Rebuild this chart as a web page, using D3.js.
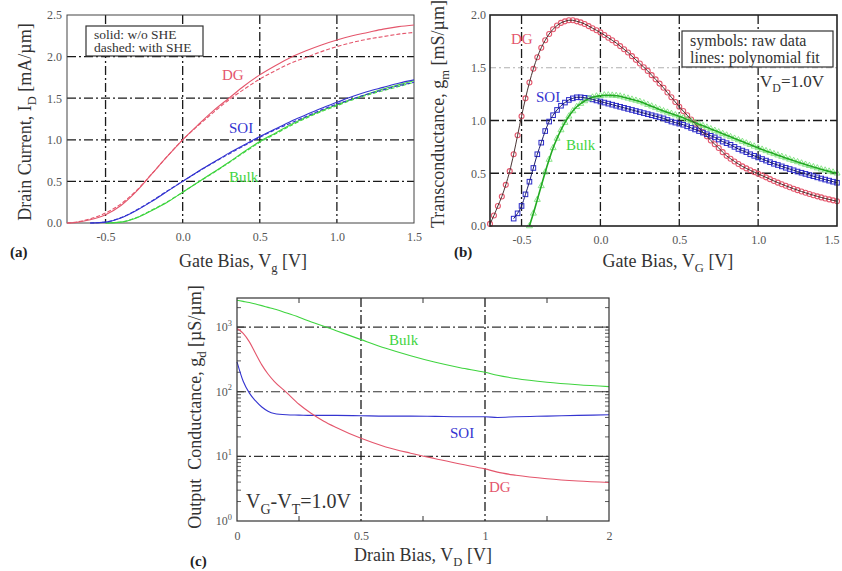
<!DOCTYPE html>
<html>
<head>
<meta charset="utf-8">
<script src="https://cdn.jsdelivr.net/npm/d3@7"></script>
<style>
  body { margin: 0; background: #fff; }
  svg text { font-family: "Liberation Serif", "Times New Roman", serif; }
</style>
</head>
<body>
<svg id="fig" width="842" height="571"></svg>
<script>
// (a) drain current [mA/um] vs gate bias [V]
const gateA = [-0.75, -0.7, -0.6, -0.5, -0.4, -0.3, -0.2, -0.1, 0.0, 0.1, 0.2, 0.3, 0.4, 0.5, 0.6, 0.7, 0.8, 0.9, 1.0, 1.1, 1.2, 1.3, 1.4, 1.5];
const dgSolidA   = [0.0, 0.005, 0.04, 0.10, 0.21, 0.38, 0.59, 0.80, 1.00, 1.18, 1.35, 1.50, 1.65, 1.78, 1.89, 1.99, 2.07, 2.14, 2.20, 2.25, 2.29, 2.33, 2.36, 2.38];
const dgDashA    = [0.0, 0.008, 0.05, 0.12, 0.23, 0.39, 0.59, 0.80, 1.00, 1.17, 1.33, 1.48, 1.61, 1.73, 1.83, 1.92, 1.99, 2.06, 2.12, 2.17, 2.21, 2.24, 2.27, 2.29];
const soiSolidA  = [null, null, 0.0, 0.01, 0.06, 0.15, 0.26, 0.38, 0.50, 0.62, 0.73, 0.84, 0.94, 1.04, 1.13, 1.22, 1.30, 1.38, 1.45, 1.52, 1.58, 1.63, 1.68, 1.72];
const soiDashA   = [null, null, 0.0, 0.012, 0.065, 0.155, 0.265, 0.385, 0.50, 0.615, 0.725, 0.83, 0.93, 1.03, 1.12, 1.20, 1.28, 1.36, 1.43, 1.49, 1.55, 1.60, 1.65, 1.69];
const bulkSolidA = [null, null, null, 0.0, 0.01, 0.06, 0.15, 0.25, 0.37, 0.49, 0.61, 0.73, 0.86, 0.98, 1.08, 1.18, 1.27, 1.35, 1.42, 1.49, 1.55, 1.61, 1.66, 1.71];
const bulkDashA  = [null, null, null, 0.0, 0.012, 0.065, 0.155, 0.255, 0.37, 0.49, 0.605, 0.725, 0.85, 0.97, 1.07, 1.17, 1.26, 1.34, 1.41, 1.48, 1.54, 1.59, 1.64, 1.69];
const ticksXA = [-0.5, 0.0, 0.5, 1.0, 1.5];
const ticksYA = [0.0, 0.5, 1.0, 1.5, 2.0, 2.5];

// (b) transconductance [mS/um] vs gate bias [V], raw data + fit
const gateB = [-0.7, -0.675, -0.65, -0.625, -0.6, -0.575, -0.55, -0.525, -0.5, -0.475, -0.45, -0.425, -0.4, -0.375, -0.35, -0.325, -0.3, -0.275, -0.25, -0.225, -0.2, -0.175, -0.15, -0.125, -0.1, -0.075, -0.05, -0.025, 0.0,
  0.025, 0.05, 0.075, 0.1, 0.125, 0.15, 0.175, 0.2, 0.225, 0.25, 0.275, 0.3, 0.325, 0.35, 0.375, 0.4, 0.425, 0.45, 0.475, 0.5,
  0.525, 0.55, 0.575, 0.6, 0.625, 0.65, 0.675, 0.7, 0.725, 0.75, 0.775, 0.8, 0.825, 0.85, 0.875, 0.9, 0.925, 0.95, 0.975, 1.0,
  1.025, 1.05, 1.075, 1.1, 1.125, 1.15, 1.175, 1.2, 1.225, 1.25, 1.275, 1.3, 1.325, 1.35, 1.375, 1.4, 1.425, 1.45, 1.475, 1.5];
const dgB = [0.02, 0.10, 0.19, 0.28, 0.39, 0.52, 0.68, 0.86, 1.04, 1.21, 1.36, 1.49, 1.60, 1.69, 1.76, 1.82, 1.865, 1.90, 1.925, 1.94, 1.95, 1.95, 1.94, 1.93, 1.915, 1.895, 1.875, 1.855, 1.835,
  1.81, 1.785, 1.76, 1.735, 1.705, 1.675, 1.645, 1.61, 1.575, 1.54, 1.505, 1.47, 1.43, 1.39, 1.35, 1.31, 1.265, 1.22, 1.175, 1.13,
  1.09, 1.05, 1.01, 0.97, 0.93, 0.89, 0.85, 0.81, 0.775, 0.74, 0.70, 0.665, 0.638, 0.612, 0.588, 0.565, 0.546, 0.528, 0.511, 0.495,
  0.478, 0.461, 0.444, 0.427, 0.411, 0.396, 0.381, 0.367, 0.353, 0.340, 0.327, 0.315, 0.303, 0.292, 0.281, 0.271, 0.261, 0.252, 0.243, 0.235];
const soiB = [null, null, null, null, null, null, 0.07, 0.12, 0.19, 0.30, 0.42, 0.55, 0.68, 0.79, 0.90, 0.99, 1.05, 1.10, 1.14, 1.17, 1.195, 1.21, 1.22, 1.22, 1.215, 1.21, 1.20, 1.19, 1.18,
  1.17, 1.16, 1.15, 1.14, 1.13, 1.12, 1.11, 1.10, 1.09, 1.08, 1.07, 1.06, 1.05, 1.04, 1.03, 1.02, 1.005, 0.99, 0.98, 0.97,
  0.96, 0.945, 0.93, 0.915, 0.90, 0.885, 0.87, 0.855, 0.84, 0.82, 0.80, 0.785, 0.77, 0.75, 0.73, 0.715, 0.70, 0.68, 0.665, 0.65,
  0.635, 0.62, 0.605, 0.59, 0.578, 0.565, 0.552, 0.54, 0.528, 0.516, 0.505, 0.494, 0.483, 0.472, 0.461, 0.45, 0.44, 0.43, 0.42, 0.41];
const bulkB = [null, null, null, null, null, null, null, null, null, null, 0.0, 0.12, 0.25, 0.38, 0.51, 0.63, 0.74, 0.83, 0.91, 0.98, 1.04, 1.09, 1.13, 1.16, 1.185, 1.205, 1.22, 1.23, 1.235,
  1.24, 1.24, 1.238, 1.235, 1.23, 1.22, 1.21, 1.20, 1.19, 1.18, 1.165, 1.15, 1.135, 1.12, 1.105, 1.09, 1.077, 1.065, 1.052, 1.04,
  1.025, 1.01, 0.995, 0.98, 0.965, 0.95, 0.935, 0.92, 0.905, 0.89, 0.875, 0.86, 0.845, 0.83, 0.815, 0.80, 0.785, 0.77, 0.755, 0.74,
  0.726, 0.712, 0.698, 0.684, 0.671, 0.658, 0.645, 0.632, 0.619, 0.607, 0.595, 0.583, 0.571, 0.56, 0.549, 0.538, 0.528, 0.518, 0.509, 0.50];
const ticksXB = [-0.5, 0.0, 0.5, 1.0, 1.5];
const ticksYB = [0.0, 0.5, 1.0, 1.5, 2.0];

// (c) output conductance [uS/um] vs drain bias [V]
const drainC = [0, 0.025, 0.05, 0.075, 0.1, 0.125, 0.15, 0.2, 0.25, 0.3, 0.35, 0.4, 0.5, 0.6, 0.7, 0.8, 0.9, 1.0, 1.1, 1.25, 1.5, 1.75, 2.0];
const bulkC = [2600, 2500, 2400, 2280, 2150, 2020, 1900, 1650, 1420, 1200, 1030, 880, 640, 470, 360, 285, 235, 200, 180, 160, 140, 128, 120];
const dgC   = [950, 800, 590, 390, 260, 188, 145, 97, 64, 46, 35, 28, 19, 14, 11.2, 9.2, 7.6, 6.4, 5.7, 5.1, 4.5, 4.15, 3.95];
const soiC  = [290, 145, 95, 72, 58, 50, 46, 44, 43.5, 43, 43, 43, 42.5, 42, 42, 41.5, 41, 41, 40, 41, 42, 43, 44];
const ticksXC = [0, 0.5, 1, 2];
const minorXC = [0.25, 0.75, 1.5];
const decadesC = [1, 10, 100, 1000];

const Fig = {};

Fig.init = function() {
    Fig.svg = d3.select('#fig');
    Fig.setup.initStyles();
    Fig.setup.initPanels();
    Fig.core.drawA();
    Fig.core.drawB();
    Fig.core.drawC();
};

Fig.setup = {
    initStyles: function() {
        Fig.red = '#e4566c';
        Fig.blue = '#3434d0';
        Fig.green = '#3fd43f';
        Fig.titleSize = 18;
        Fig.darkGrid = { color: '#1a1a1a', width: 1.3, dash: '9,3,2,3' };
        Fig.lightGrid = { color: '#9a9a9a', width: 0.8, dash: '6,3,2,3' };
    },

    initPanels: function() {
        Fig.a = { left: 67, right: 414, top: 15, bottom: 223 };
        Fig.a.x = d3.scaleLinear().domain([-0.75, 1.5]).range([Fig.a.left, Fig.a.right]);
        Fig.a.y = d3.scaleLinear().domain([0, 2.5]).range([Fig.a.bottom, Fig.a.top]);

        Fig.b = { left: 490, right: 837, top: 15, bottom: 226 };
        Fig.b.x = d3.scaleLinear().domain([-0.7, 1.5]).range([Fig.b.left, Fig.b.right]);
        Fig.b.y = d3.scaleLinear().domain([0, 2]).range([Fig.b.bottom, Fig.b.top]);

        // x axis of (c) is drawn with equal spacing for 0, 0.5, 1, 2
        Fig.c = { left: 237, right: 609, top: 298, bottom: 521 };
        const w = (Fig.c.right - Fig.c.left) / 3;
        Fig.c.x = d3.scaleLinear().domain(ticksXC).range([Fig.c.left, Fig.c.left + w, Fig.c.left + 2 * w, Fig.c.right]);
        Fig.c.y = d3.scaleLog().domain([1, Math.pow(10, 3.45)]).range([Fig.c.bottom, Fig.c.top]);

        [Fig.a, Fig.b, Fig.c].forEach(function(p) {
            p.g = Fig.svg.append('g');
        });
    }
};

Fig.helpers = {
    line: function(p) {
        return d3.line()
            .defined(d => d[1] != null)
            .x(d => p.x(d[0]))
            .y(d => p.y(d[1]))
            .curve(d3.curveMonotoneX);
    },

    gridX: function(p, values, style) {
        p.g.selectAll(null).data(values).enter().append('line')
            .attr('x1', d => p.x(d)).attr('x2', d => p.x(d))
            .attr('y1', p.top).attr('y2', p.bottom)
            .attr('stroke', style.color).attr('stroke-width', style.width)
            .attr('stroke-dasharray', style.dash);
    },

    gridY: function(p, values, style) {
        p.g.selectAll(null).data(values).enter().append('line')
            .attr('x1', p.left).attr('x2', p.right)
            .attr('y1', d => p.y(d)).attr('y2', d => p.y(d))
            .attr('stroke', style.color).attr('stroke-width', style.width)
            .attr('stroke-dasharray', style.dash);
    },

    frame: function(p, color, width) {
        p.g.append('rect')
            .attr('x', p.left).attr('y', p.top)
            .attr('width', p.right - p.left).attr('height', p.bottom - p.top)
            .attr('fill', 'none').attr('stroke', color).attr('stroke-width', width);
    },

    axes: function(p, xTicks, yTicks, fmtX, fmtY, padX, padY) {
        const gx = p.g.append('g').attr('transform', 'translate(0,' + p.bottom + ')')
            .call(d3.axisBottom(p.x).tickValues(xTicks).tickFormat(fmtX).tickSize(0).tickPadding(padX));
        const gy = p.g.append('g').attr('transform', 'translate(' + p.left + ',0)')
            .call(d3.axisLeft(p.y).tickValues(yTicks).tickFormat(fmtY).tickSize(0).tickPadding(padY));
        [gx, gy].forEach(function(g) {
            g.select('.domain').remove();
            g.selectAll('text')
                .attr('font-family', '"Liberation Serif", serif')
                .attr('font-size', 12).attr('fill', '#555');
        });
        return gx;
    },

    // text built from [string, 'sub' | 'sup' | ''] parts
    richText: function(text, parts, size) {
        let shift = 0;
        parts.forEach(function(part) {
            const want = part[1] === 'sub' ? size * 0.28 : part[1] === 'sup' ? -size * 0.45 : 0;
            text.append('tspan')
                .attr('dy', want - shift)
                .attr('font-size', part[1] ? size * 0.7 : size)
                .text(part[0]);
            shift = want;
        });
        return text;
    },

    label: function(x, y, parts, size, color, anchor, rotate) {
        const t = Fig.svg.append('text')
            .attr('x', x).attr('y', y)
            .attr('text-anchor', anchor || 'start')
            .attr('fill', color)
            .style('white-space', 'pre');
        if (rotate) {
            t.attr('transform', 'rotate(-90,' + x + ',' + y + ')');
        }
        return Fig.helpers.richText(t, parts, size);
    },

    tag: function(x, y, str) {
        Fig.svg.append('text')
            .attr('x', x).attr('y', y)
            .attr('font-family', '"Liberation Sans", Arial, sans-serif')
            .attr('font-weight', 'bold').attr('font-size', 15).attr('fill', '#222')
            .text(str);
    }
};

Fig.core = {
    drawA: function() {
        const p = Fig.a;
        const H = Fig.helpers;
        H.gridX(p, ticksXA.slice(0, -1), Fig.darkGrid);
        H.gridY(p, ticksYA.slice(1, -1), Fig.darkGrid);
        H.frame(p, '#444', 1);
        H.axes(p, ticksXA, ticksYA, d => d.toFixed(1), d => d.toFixed(1), 9, 5);

        const line = H.line(p);
        const series = [
            [dgSolidA, Fig.red, null], [dgDashA, Fig.red, '4,2'],
            [bulkSolidA, Fig.green, null], [bulkDashA, Fig.green, '4,2'],
            [soiSolidA, Fig.blue, null], [soiDashA, Fig.blue, '4,2']
        ];
        series.forEach(function(s) {
            p.g.append('path')
                .datum(d3.zip(gateA, s[0]))
                .attr('d', line)
                .attr('fill', 'none').attr('stroke', s[1]).attr('stroke-width', 1.1)
                .attr('stroke-dasharray', s[2]);
        });

        p.g.append('rect').attr('x', 86).attr('y', 26).attr('width', 117).attr('height', 30)
            .attr('fill', '#fff').attr('stroke', '#333').attr('stroke-width', 1.2);
        H.label(94, 38.5, [['solid: w/o SHE', '']], 13.5, '#333');
        H.label(94, 52, [['dashed: with SHE', '']], 13.5, '#333');
        H.label(222, 80, [['DG', '']], 15, Fig.red);
        H.label(229, 133, [['SOI', '']], 15, Fig.blue);
        H.label(229, 182, [['Bulk', '']], 15, Fig.green);

        H.label(243, 267, [['Gate Bias, V', ''], ['g', 'sub'], [' [V]', '']], Fig.titleSize, '#333', 'middle');
        H.label(31, 122, [['Drain Current, I', ''], ['D', 'sub'], [' [mA/\u00b5m]', '']], Fig.titleSize, '#333', 'middle', true);
        H.tag(10, 257, '(a)');
    },

    drawB: function() {
        const p = Fig.b;
        const H = Fig.helpers;
        H.gridX(p, ticksXB.slice(0, -1), Fig.darkGrid);
        H.gridY(p, [1.5], Fig.lightGrid);
        H.gridY(p, [0.5, 1.0], Fig.darkGrid);

        const gR = p.g.append('g'), gS = p.g.append('g'), gT = p.g.append('g');
        const dgPts = d3.zip(gateB, dgB).filter(d => d[1] != null);
        const soiPts = d3.zip(gateB, soiB).filter(d => d[1] != null);
        const bulkPts = d3.zip(gateB, bulkB).filter(d => d[1] != null);

        gT.selectAll('path').data(bulkPts).enter().append('path')
            .attr('d', d3.symbol(d3.symbolTriangle).size(16))
            .attr('transform', d => 'translate(' + p.x(d[0]) + ',' + p.y(d[1]) + ')')
            .attr('fill', 'none').attr('stroke', '#7ee27e').attr('stroke-width', 0.9);
        gR.selectAll('circle').data(dgPts).enter().append('circle')
            .attr('cx', d => p.x(d[0])).attr('cy', d => p.y(d[1])).attr('r', 2.5)
            .attr('fill', 'none').attr('stroke', Fig.red).attr('stroke-width', 1.1);
        gS.selectAll('rect').data(soiPts).enter().append('rect')
            .attr('x', d => p.x(d[0]) - 2.3).attr('y', d => p.y(d[1]) - 2.3)
            .attr('width', 4.6).attr('height', 4.6)
            .attr('fill', 'none').attr('stroke', '#2a2ac8').attr('stroke-width', 1);

        const line = H.line(p);
        p.g.append('path').datum(bulkPts).attr('d', line)
            .attr('fill', 'none').attr('stroke', '#22aa22').attr('stroke-width', 1.6);
        p.g.append('path').datum(soiPts).attr('d', line)
            .attr('fill', 'none').attr('stroke', '#1c1c70').attr('stroke-width', 1);
        p.g.append('path').datum(dgPts).attr('d', line)
            .attr('fill', 'none').attr('stroke', '#4a3434').attr('stroke-width', 1);

        H.frame(p, '#222', 1.6);
        const gx = H.axes(p, ticksXB, ticksYB, d => d.toFixed(1), d => d.toFixed(1), 9, 4);
        // keep the last tick label inside the window
        gx.selectAll('.tick text').filter(d => d === 1.5).attr('text-anchor', 'end').attr('dx', 2);

        p.g.append('rect').attr('x', 682).attr('y', 31).attr('width', 151).attr('height', 36)
            .attr('fill', '#fff').attr('stroke', '#333').attr('stroke-width', 1.2);
        H.label(690, 46, [['symbols: raw data', '']], 16, '#333');
        H.label(690, 62.5, [['lines: polynomial fit', '']], 16, '#333');
        H.label(760, 87, [['V', ''], ['D', 'sub'], ['=1.0V', '']], 17, '#333');
        H.label(511, 44, [['DG', '']], 15, Fig.red);
        H.label(536, 102, [['SOI', '']], 15, Fig.blue);
        H.label(566, 150, [['Bulk', '']], 15, Fig.green);

        H.label(668, 267, [['Gate Bias, V', ''], ['G', 'sub'], [' [V]', '']], Fig.titleSize, '#333', 'middle');
        H.label(444, 114, [['Transconductance, g', ''], ['m', 'sub'], [' [mS/\u00b5m]', '']], Fig.titleSize, '#333', 'middle', true);
        H.tag(454, 257, '(b)');
    },

    drawC: function() {
        const p = Fig.c;
        const H = Fig.helpers;
        H.gridY(p, decadesC.slice(1), { color: '#333', width: 1.1, dash: '9,3,2,3' });
        H.gridX(p, [0.5, 1], Fig.darkGrid);

        // minor ticks inside the frame
        const minorY = [];
        decadesC.forEach(function(dec) {
            for (let k = 2; k <= 9; k++) {
                if (dec * k <= p.y.domain()[1]) minorY.push(dec * k);
            }
        });
        [p.left, p.right].forEach(function(x0, i) {
            const dir = i === 0 ? 1 : -1;
            p.g.selectAll(null).data(minorY).enter().append('line')
                .attr('x1', x0).attr('x2', x0 + dir * 4)
                .attr('y1', d => p.y(d)).attr('y2', d => p.y(d))
                .attr('stroke', '#333').attr('stroke-width', 0.8);
            p.g.selectAll(null).data(decadesC.slice(1)).enter().append('line')
                .attr('x1', x0).attr('x2', x0 + dir * 7)
                .attr('y1', d => p.y(d)).attr('y2', d => p.y(d))
                .attr('stroke', '#333').attr('stroke-width', 1);
        });
        [p.top, p.bottom].forEach(function(y0, i) {
            const dir = i === 0 ? 1 : -1;
            p.g.selectAll(null).data(minorXC).enter().append('line')
                .attr('x1', d => p.x(d)).attr('x2', d => p.x(d))
                .attr('y1', y0).attr('y2', y0 + dir * 5)
                .attr('stroke', '#333').attr('stroke-width', 1);
        });

        const line = H.line(p);
        [[bulkC, Fig.green], [soiC, Fig.blue], [dgC, Fig.red]].forEach(function(s) {
            p.g.append('path').datum(d3.zip(drainC, s[0])).attr('d', line)
                .attr('fill', 'none').attr('stroke', s[1]).attr('stroke-width', 1.1);
        });

        H.frame(p, '#333', 1.2);

        const gx = p.g.append('g').attr('transform', 'translate(0,' + p.bottom + ')')
            .call(d3.axisBottom(p.x).tickValues(ticksXC).tickFormat(d3.format('')).tickSize(0).tickPadding(10));
        gx.select('.domain').remove();
        gx.selectAll('text').attr('font-family', '"Liberation Serif", serif')
            .attr('font-size', 12).attr('fill', '#555');

        decadesC.forEach(function(d) {
            const t = p.g.append('text')
                .attr('x', p.left - 5).attr('y', p.y(d) + 4)
                .attr('text-anchor', 'end').attr('fill', '#555');
            H.richText(t, [['10', ''], [String(Math.round(Math.log10(d))), 'sup']], 12);
        });

        H.label(389, 345, [['Bulk', '']], 15, Fig.green);
        H.label(450, 438, [['SOI', '']], 15, Fig.blue);
        H.label(489, 492, [['DG', '']], 15, Fig.red);
        H.label(246, 508, [['V', ''], ['G', 'sub'], ['-V', ''], ['T', 'sub'], ['=1.0V', '']], 20, '#333');

        H.label(423, 561, [['Drain Bias, V', ''], ['D', 'sub'], [' [V]', '']], Fig.titleSize, '#333', 'middle');
        H.label(201, 407, [['Output  Conductance, g', ''], ['d', 'sub'], [' [\u00b5S/\u00b5m]', '']], Fig.titleSize, '#333', 'middle', true);
        H.tag(190, 566, '(c)');
    }
};

Fig.init();
</script>
</body>
</html>
